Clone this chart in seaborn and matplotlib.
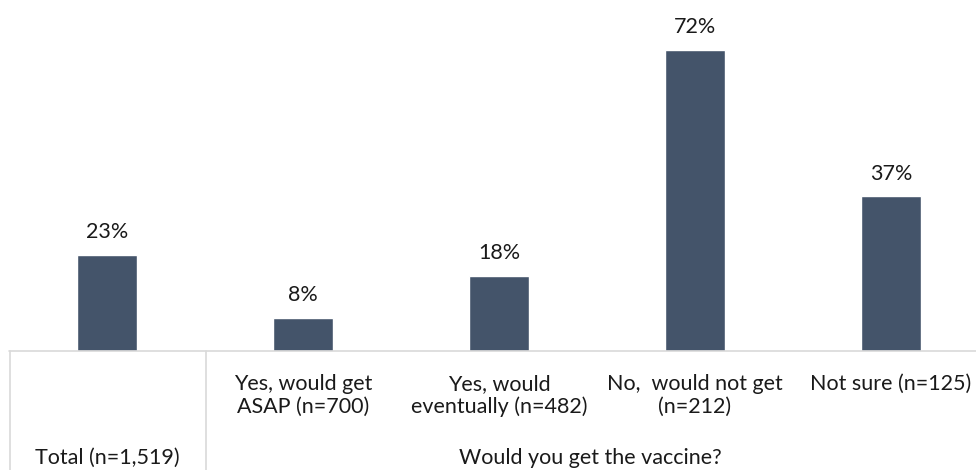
import matplotlib
matplotlib.use("Agg")
import matplotlib.pyplot as plt
import matplotlib.transforms as mtransforms
import seaborn as sns
import pandas as pd

categories = [
    "Total (n=1,519)",
    "Yes, would get\nASAP (n=700)",
    "Yes, would\neventually (n=482)",
    "No,  would not get\n(n=212)",
    "Not sure (n=125)",
]
values = [23, 8, 18, 72, 37]
group_label = "Would you get the vaccine?"

bar_color = "#44546A"
grid_color = "#D9D9D9"
text_color = "#1A1A1A"
fs = 15.5

sns.set_style("white")
plt.rcParams["font.family"] = ["Lato", "DejaVu Sans"]

W, H = 976, 470
fig = plt.figure(figsize=(W / 100, H / 100), dpi=100)

base_px = 351          # baseline, pixels from top
left_px = 9
slot_px = 196          # width of one category slot
ax = fig.add_axes([left_px / W, (H - base_px) / H, (W - left_px) / W, base_px / H])

df = pd.DataFrame({"cat": categories, "val": values})
sns.barplot(data=df, x="cat", y="val", color=bar_color, width=0.31,
            saturation=1, ax=ax)

ax.set_xlim(-0.5, -0.5 + (W - left_px) / slot_px)
ax.set_ylim(0, base_px / 4.18)
ax.set_xlabel("")
ax.set_ylabel("")
ax.set_xticks([])
ax.set_yticks([])
for s in ax.spines.values():
    s.set_visible(False)

# value labels above bars
for i, v in enumerate(values):
    ax.annotate(f"{v}%", (i, v), xytext=(0, 12), textcoords="offset points",
                ha="center", va="baseline", fontsize=fs, color=text_color)

# category table under the bars
trans = mtransforms.blended_transform_factory(ax.transData, fig.transFigure)
fig_y = lambda px: (H - px) / H
fig_x = lambda px: px / W

for i, lab in enumerate(categories[1:], start=1):
    ax.text(i, fig_y(374), lab, transform=trans, ha="center", va="top",
            fontsize=fs, color=text_color, linespacing=1.15)

ax.text(0, fig_y(458), categories[0], transform=trans, ha="center",
        va="center", fontsize=fs, color=text_color)
fig.text(fig_x((205 + 976) / 2), fig_y(458), group_label, ha="center",
         va="center", fontsize=fs, color=text_color)

# table rules
fig.add_artist(plt.Line2D([fig_x(9), 1.0], [fig_y(351), fig_y(351)],
                          color=grid_color, lw=1.2, transform=fig.transFigure))
for xp in (9.5, 205.5):
    fig.add_artist(plt.Line2D([fig_x(xp), fig_x(xp)], [fig_y(351), 0],
                              color=grid_color, lw=1.2,
                              transform=fig.transFigure))

fig.savefig("out.png", dpi=100)
